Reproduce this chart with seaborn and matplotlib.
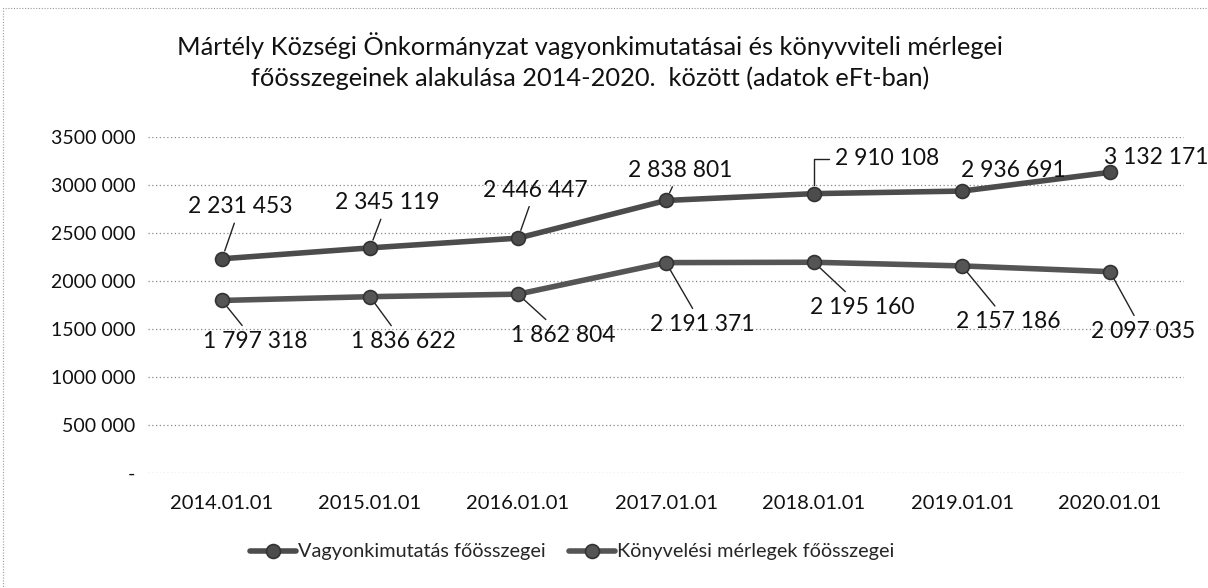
import matplotlib
matplotlib.use("Agg")
import matplotlib.pyplot as plt
import seaborn as sns
import pandas as pd
from matplotlib.patches import Rectangle
from matplotlib.lines import Line2D

categories = ["2014.01.01", "2015.01.01", "2016.01.01", "2017.01.01",
              "2018.01.01", "2019.01.01", "2020.01.01"]
vagyon = [2231453, 2345119, 2446447, 2838801, 2910108, 2936691, 3132171]
konyv = [1797318, 1836622, 1862804, 2191371, 2195160, 2157186, 2097035]
series_names = ["Vagyonkimutatás főösszegei", "Könyvelési mérlegek főösszegei"]
y_ticks = [0, 500000, 1000000, 1500000, 2000000, 2500000, 3000000, 3500000]
y_tick_labels = ["-", "500 000", "1000 000", "1500 000", "2000 000",
                 "2500 000", "3000 000", "3500 000"]
title = ("Mártély Községi Önkormányzat vagyonkimutatásai és könyvviteli mérlegei\n"
         "főösszegeinek alakulása 2014-2020.  között (adatok eFt-ban)")

# label offsets in pixels (dx, dy) -- styling only
off_top = [(18, 52), (17, 45), (17, 48), (14, 30), (73, 35), (51, 21), (46, 15)]
off_bot = [(33, -41), (33, -45), (45, -41), (36, -62), (48, -45), (46, -56), (33, -60)]
leader_top = [True, True, True, True, True, False, False]

sns.set_style("white")
plt.rcParams["font.family"] = ["Lato", "DejaVu Sans"]

df = pd.DataFrame({
    "x": list(range(len(categories))) * 2,
    "value": vagyon + konyv,
    "series": [series_names[0]] * len(vagyon) + [series_names[1]] * len(konyv),
})

fig = plt.figure(figsize=(12.08, 5.88), dpi=100)
ax = fig.add_axes([148 / 1208, 1 - 473 / 588, (1184 - 148) / 1208, (473 - 137) / 588])

palette = {series_names[0]: "#4c4c4c", series_names[1]: "#555555"}
sns.lineplot(data=df, x="x", y="value", hue="series", palette=palette, ax=ax,
             marker="o", markersize=10, linewidth=4.0, markeredgecolor="#333333",
             markeredgewidth=1.2, legend=False)

ax.set_xlim(-0.5, len(categories) - 0.5)
ax.set_ylim(0, 3500000)
ax.set_yticks(y_ticks)
ax.set_yticklabels(y_tick_labels)
ax.set_xticks(range(len(categories)))
ax.set_xticklabels(categories)
ax.set_xticks([i - 0.5 for i in range(len(categories) + 1)], minor=True)
ax.tick_params(axis="x", which="major", length=0, pad=16, labelsize=14.5, colors="#111111")
ax.tick_params(axis="x", which="minor", length=4, color="#999999", direction="out")
ax.tick_params(axis="y", length=0, pad=9, labelsize=14, colors="#111111")
for lab in ax.get_yticklabels():
    lab.set_horizontalalignment("right")
ax.set_xlabel("")
ax.set_ylabel("")
for s in ax.spines.values():
    s.set_visible(False)
ax.yaxis.grid(True, linestyle=(0, (1, 2)), color="#888888", linewidth=0.9)
ax.set_axisbelow(True)

def fmt(v):
    return f"{v:,}".replace(",", " ")

for i, v in enumerate(vagyon):
    dx, dy = off_top[i]
    if leader_top[i]:
        if i == 4:
            ap = dict(arrowstyle="-", color="#222222", lw=1.0, shrinkA=2, shrinkB=6,
                      connectionstyle="angle,angleA=0,angleB=90,rad=0")
        else:
            ap = dict(arrowstyle="-", color="#222222", lw=1.0, shrinkA=2, shrinkB=6)
    else:
        ap = None
    ax.annotate(fmt(v), xy=(i, v), xytext=(dx, dy), textcoords="offset pixels",
                ha="center", va="center", fontsize=16.5, color="#111111",
                arrowprops=ap)

for i, v in enumerate(konyv):
    dx, dy = off_bot[i]
    ap = dict(arrowstyle="-", color="#222222", lw=1.0, shrinkA=2, shrinkB=6)
    ax.annotate(fmt(v), xy=(i, v), xytext=(dx, dy), textcoords="offset pixels",
                ha="center", va="center", fontsize=16.5, color="#111111",
                arrowprops=ap)

fig.text(590 / 1208, 1 - 61 / 588, title, ha="center", va="center",
         fontsize=18.3, color="#111111", linespacing=1.35)

handles = [Line2D([], [], color=palette[n], lw=4.0, marker="o", markersize=10,
                  markeredgecolor="#333333", markeredgewidth=1.2) for n in series_names]
fig.legend(handles, series_names, loc="center", bbox_to_anchor=(572 / 1208, 1 - 552 / 588),
           ncol=2, frameon=False, fontsize=14.3, handlelength=2.3, handletextpad=0.1,
           columnspacing=1.2)

fig.add_artist(Rectangle((3 / 1208, -0.2), 1.2, 1.2 - 8 / 588,
                         transform=fig.transFigure, fill=False,
                         edgecolor="#999999", linewidth=0.8, linestyle=(0, (1, 1.5))))

fig.savefig("out.png", dpi=100)
